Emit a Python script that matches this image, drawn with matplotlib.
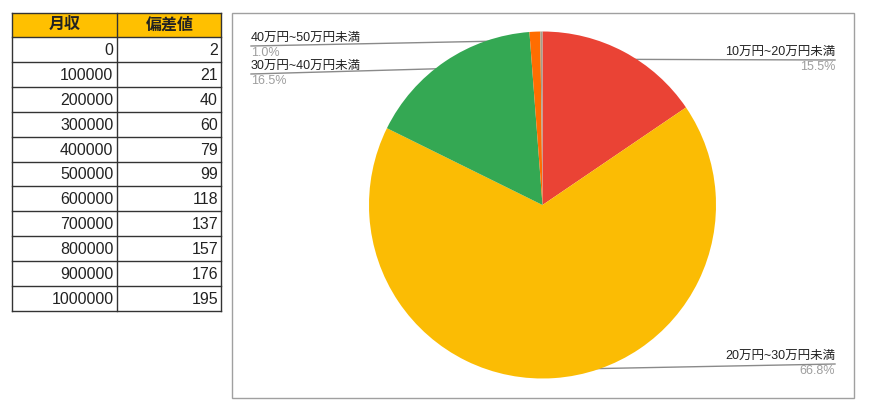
import numpy as np
import matplotlib.pyplot as plt

plt.rcParams['font.family'] = ['Liberation Sans', 'Noto Sans CJK JP']

# table data
col_names = ['月収', '偏差値']
income = [0, 100000, 200000, 300000, 400000, 500000, 600000, 700000, 800000, 900000, 1000000]
score = [2, 21, 40, 60, 79, 99, 118, 137, 157, 176, 195]

# pie data
labels = ['10万円~20万円未満', '20万円~30万円未満', '30万円~40万円未満', '40万円~50万円未満', '']
shares = [15.5, 66.8, 16.5, 1.0, 0.2]
colors = ['#EA4335', '#FBBC04', '#34A853', '#FF6D01', '#A59E8C']

W, H = 870, 416
fig = plt.figure(figsize=(W / 100, H / 100), dpi=100)

# background axes in pixel coords
bg = fig.add_axes([0, 0, 1, 1])
bg.set_xlim(0, W)
bg.set_ylim(H, 0)
bg.axis('off')

# --- table ---
tx0, tx1, tcol = 12.5, 221.5, 117.5
ty0, thead = 12.5, 37.3
rh = 24.85
n = len(income)
bg.add_patch(plt.Rectangle((tx0, ty0), tx1 - tx0, thead - ty0, facecolor='#FFC000', edgecolor='none'))
bottom = thead + rh * n
lc = '#333333'
for i in range(n + 2):
    y = ty0 if i == 0 else thead + rh * (i - 1)
    bg.plot([tx0, tx1], [y, y], color=lc, lw=1)
for x in (tx0, tcol, tx1):
    bg.plot([x, x], [ty0, bottom], color=lc, lw=1)
bg.text((tx0 + tcol) / 2, (ty0 + thead) / 2, col_names[0], ha='center', va='center',
        fontsize=11.5, fontweight='bold', color='#222222')
bg.text((tcol + tx1) / 2, (ty0 + thead) / 2, col_names[1], ha='center', va='center',
        fontsize=11.5, fontweight='bold', color='#222222')
for i, (a, b) in enumerate(zip(income, score)):
    yc = thead + rh * (i + 0.5)
    bg.text(tcol - 4, yc + 1, str(a), ha='right', va='center', fontsize=11.5, color='#222222')
    bg.text(tx1 - 3.5, yc + 1, str(b), ha='right', va='center', fontsize=11.5, color='#222222')

# --- chart frame ---
bg.add_patch(plt.Rectangle((232, 12.5), 622, 385.5, facecolor='none', edgecolor='#A0A0A0', lw=1))

# --- pie ---
cx, cy, r = 542.5, 205, 173.5
pax = fig.add_axes([(cx - r) / W, (H - cy - r) / H, 2 * r / W, 2 * r / H])
wedges, _ = pax.pie(shares, colors=colors, startangle=90, counterclock=False,
                    wedgeprops=dict(linewidth=0))
pax.set_xlim(-1, 1)
pax.set_ylim(-1, 1)
pax.set_aspect('equal')
pax.axis('off')

# label placement: (side, underline y in px)
label_pos = {0: ('right', 60), 1: ('right', 364), 2: ('left', 74), 3: ('left', 46)}
to_bg = bg.transData.inverted()
for i, w in enumerate(wedges):
    if i not in label_pos:
        continue
    side, uy = label_pos[i]
    mid = np.deg2rad((w.theta1 + w.theta2) / 2)
    dot = to_bg.transform(pax.transData.transform((0.95 * np.cos(mid), 0.95 * np.sin(mid))))
    ex = 835 if side == 'right' else 251
    bg.plot([dot[0], ex], [dot[1], uy], color='#8A8A8A', lw=1, zorder=5)
    bg.plot(dot[0], dot[1], 'o', ms=3, color='#9A9A9A', zorder=6)
    ha = 'right' if side == 'right' else 'left'
    bg.text(ex, uy - 2, labels[i], ha=ha, va='bottom', fontsize=9, color='#222222', zorder=6)
    bg.text(ex, uy + 1.5, f'{shares[i]:.1f}%', ha=ha, va='top', fontsize=9, color='#9E9E9E', zorder=6)

fig.savefig('out.png', dpi=100)
